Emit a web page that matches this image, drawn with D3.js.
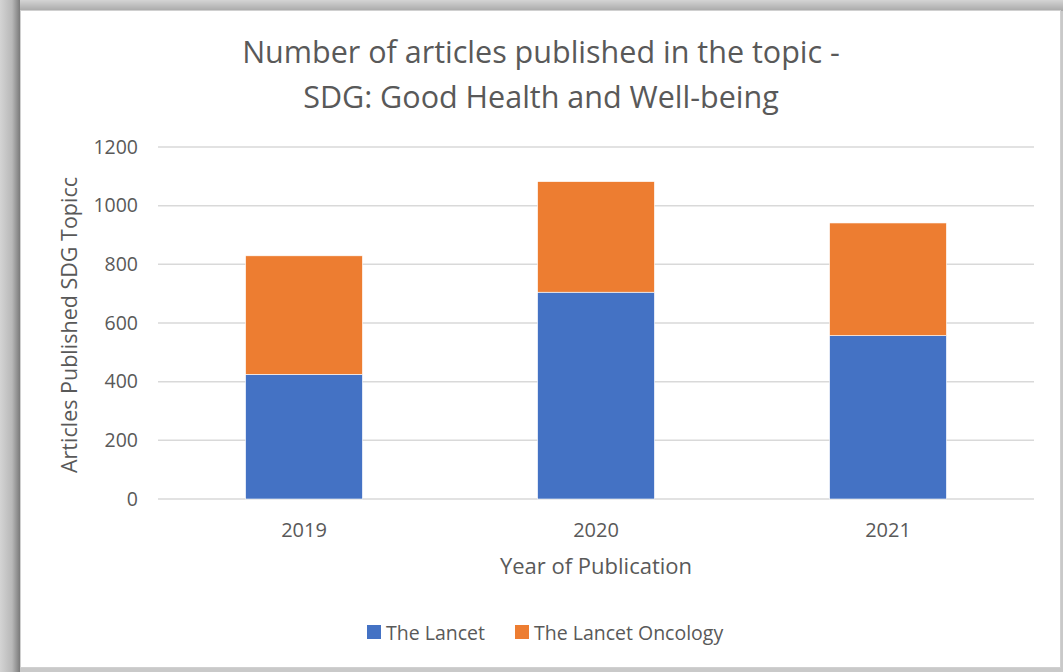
<!DOCTYPE html>
<html>
<head>
<meta charset="utf-8">
<script src="https://cdn.jsdelivr.net/npm/d3@7"></script>
<style>
  html, body { margin: 0; padding: 0; background: #fff; }
  svg { display: block; font-family: 'Open Sans', sans-serif; }
</style>
</head>
<body>
<svg id="chart" width="1063" height="672"></svg>
<script>
const years = ['2019', '2020', '2021'];
const lancet = [425, 705, 557];
const lancetOncology = [404, 377, 384];
const seriesNames = ['The Lancet', 'The Lancet Oncology'];
const seriesColors = ['#4472C4', '#ED7D31'];
const yTicks = [0, 200, 400, 600, 800, 1000, 1200];
const titleLines = ['Number of articles published in the topic -', 'SDG: Good Health and Well-being'];

const width = 1063;
const height = 672;
const margin = { top: 147, right: 29, bottom: 173, left: 158 };
const textColor = '#595959';

const svg = d3.select('#chart');

// frame with shadow
const defs = svg.append('defs');
const gl = defs.append('linearGradient').attr('id', 'shadowLeft').attr('x1', 0).attr('x2', 1).attr('y1', 0).attr('y2', 0);
gl.append('stop').attr('offset', '0%').attr('stop-color', '#d4d4d4');
gl.append('stop').attr('offset', '60%').attr('stop-color', '#b8b8b8');
gl.append('stop').attr('offset', '100%').attr('stop-color', '#7a7a7a');
const gt = defs.append('linearGradient').attr('id', 'shadowTop').attr('x1', 0).attr('x2', 0).attr('y1', 0).attr('y2', 1);
gt.append('stop').attr('offset', '0%').attr('stop-color', '#d4d4d4');
gt.append('stop').attr('offset', '100%').attr('stop-color', '#a8a8a8');

svg.append('rect').attr('x', 0).attr('y', 0).attr('width', width).attr('height', height).attr('fill', '#c9c9c9');
svg.append('rect').attr('x', 0).attr('y', 0).attr('width', width).attr('height', 11).attr('fill', 'url(#shadowTop)');
svg.append('rect').attr('x', 0).attr('y', 0).attr('width', 20).attr('height', height).attr('fill', 'url(#shadowLeft)');
svg.append('rect')
  .attr('x', 20.5).attr('y', 10.5).attr('width', 1040).attr('height', 657)
  .attr('fill', '#fff').attr('stroke', '#d0d0d0');

const x = d3.scaleBand()
  .domain(years)
  .range([margin.left, width - margin.right])
  .paddingInner(0.6)
  .paddingOuter(0.3);

const y = d3.scaleLinear()
  .domain([0, 1200])
  .range([height - margin.bottom, margin.top]);

// gridlines
svg.append('g')
  .selectAll('line')
  .data(yTicks)
  .join('line')
  .attr('x1', margin.left)
  .attr('x2', width - margin.right)
  .attr('y1', (d) => y(d))
  .attr('y2', (d) => y(d))
  .attr('stroke', '#d9d9d9')
  .attr('stroke-width', 1.5);

// stacked bars
const table = years.map((yr, i) => ({ year: yr, a: lancet[i], b: lancetOncology[i] }));
const stacked = d3.stack().keys(['a', 'b'])(table);

svg.append('g')
  .selectAll('g')
  .data(stacked)
  .join('g')
  .attr('fill', (d, i) => seriesColors[i])
  .selectAll('rect')
  .data((d) => d)
  .join('rect')
  .attr('x', (d) => x(d.data.year))
  .attr('y', (d) => y(d[1]))
  .attr('height', (d) => y(d[0]) - y(d[1]))
  .attr('width', x.bandwidth())
  .attr('stroke', '#fff')
  .attr('stroke-width', 0.6);

// y axis
const yAxis = (g) =>
  g
    .attr('transform', `translate(${margin.left},0)`)
    .call(d3.axisLeft(y).tickValues(yTicks).tickFormat(d3.format('d')).tickSize(0).tickPadding(20))
    .call((g) => g.select('.domain').remove())
    .call((g) => g.selectAll('text')
      .attr('fill', textColor)
      .attr('font-size', '19.5px')
      .attr('font-family', "'Open Sans', sans-serif"));
svg.append('g').call(yAxis);

// x axis
const xAxis = (g) =>
  g
    .attr('transform', `translate(0,${height - margin.bottom})`)
    .call(d3.axisBottom(x).tickSize(0).tickPadding(24))
    .call((g) => g.select('.domain').remove())
    .call((g) => g.selectAll('text')
      .attr('fill', textColor)
      .attr('font-size', '20px')
      .attr('font-family', "'Open Sans', sans-serif"));
svg.append('g').call(xAxis);

// title
svg.append('g')
  .selectAll('text')
  .data(titleLines)
  .join('text')
  .attr('x', 541)
  .attr('y', (d, i) => 63 + i * 45)
  .attr('text-anchor', 'middle')
  .attr('font-size', '30.5px')
  .attr('fill', textColor)
  .text((d) => d);

// axis titles
svg.append('text')
  .attr('x', 596)
  .attr('y', 574)
  .attr('text-anchor', 'middle')
  .attr('font-size', '22px')
  .attr('fill', textColor)
  .text('Year of Publication');

svg.append('text')
  .attr('transform', 'translate(77,325) rotate(-90)')
  .attr('text-anchor', 'middle')
  .attr('font-size', '21.5px')
  .attr('fill', textColor)
  .text('Articles Published SDG Topicc');

// legend
const legendX = [367, 515];
const legend = svg.append('g')
  .selectAll('g')
  .data(seriesNames)
  .join('g')
  .attr('transform', (d, i) => `translate(${legendX[i]},625)`);
legend.append('rect')
  .attr('width', 14)
  .attr('height', 14)
  .attr('fill', (d, i) => seriesColors[i]);
legend.append('text')
  .attr('x', 19)
  .attr('y', 15)
  .attr('font-size', '19.5px')
  .attr('fill', textColor)
  .text((d) => d);
</script>
</body>
</html>
